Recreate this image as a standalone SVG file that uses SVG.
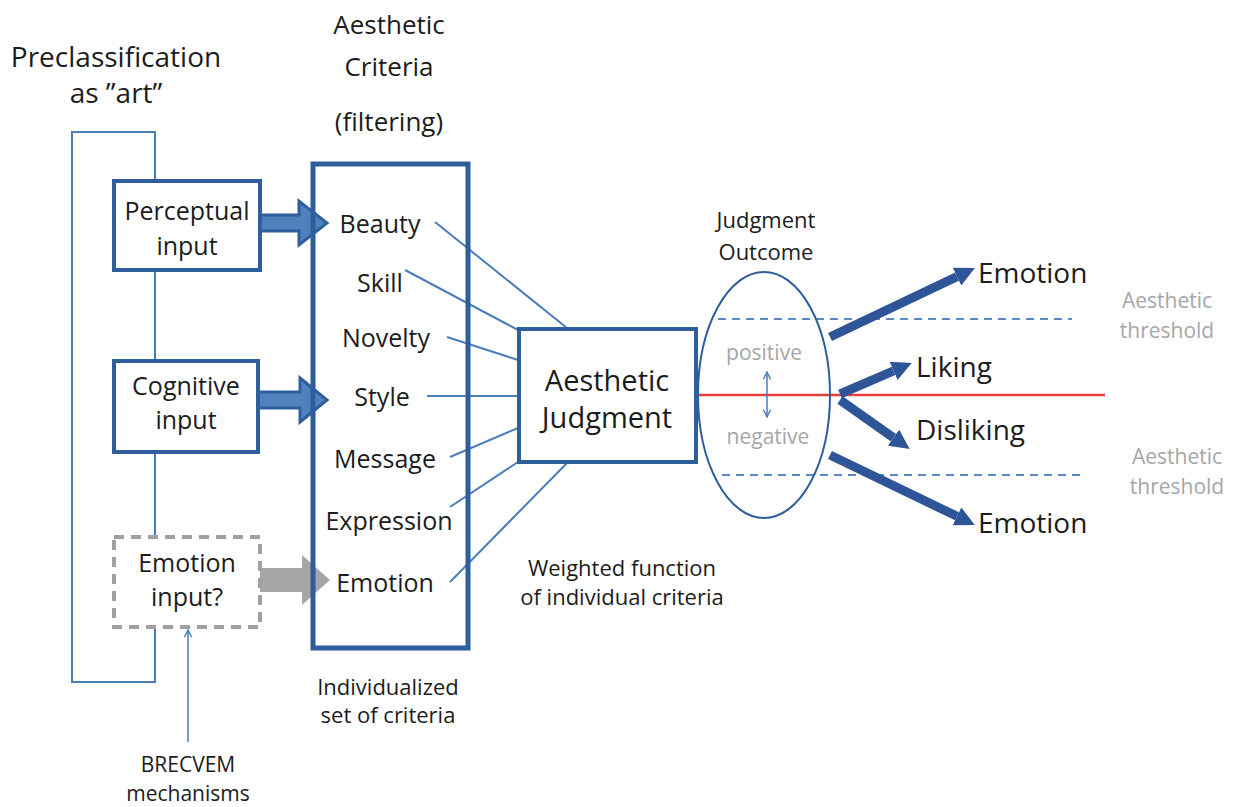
<svg xmlns="http://www.w3.org/2000/svg" width="1234" height="807" viewBox="0 0 1234 807">
<defs>
<style>
text{font-family:"Open Sans","Liberation Sans",sans-serif;fill:#1c1c1c;text-anchor:middle}
.h{font-size:28px}
.h2{font-size:26px}
.b{font-size:25px}
.c{font-size:25px}
.j{font-size:29px}
.s{font-size:22px}
.g{font-size:21px;fill:#a6a6a6}
.big{font-size:28px;text-anchor:start}
.box{fill:#fff;stroke:#2f5e9c;stroke-width:4}
.thin{stroke:#4a7ebb;stroke-width:2;fill:none}
.fat{stroke:#2e5597;stroke-width:9;fill:none}
.dash{stroke:#5a8ac6;stroke-width:2;stroke-dasharray:8,6;fill:none}
</style>
<marker id="ah" viewBox="0 0 10 10" refX="0" refY="5" markerWidth="2.2" markerHeight="2.2" orient="auto" markerUnits="strokeWidth">
<path d="M0,0 L10,5 L0,10 z" fill="#2e5597"/>
</marker>
<marker id="open" viewBox="0 0 10 10" refX="9" refY="5" markerWidth="9" markerHeight="9" orient="auto-start-reverse" markerUnits="userSpaceOnUse">
<path d="M1,1 L9,5 L1,9" fill="none" stroke="#4a7ebb" stroke-width="1.6"/>
</marker>
</defs>
<rect width="1234" height="807" fill="#fff"/>

<g id="headers">
<text class="h" x="116" y="67">Preclassification</text>
<text class="h" x="116" y="103">as ”art”</text>
<text class="h2" x="389" y="34">Aesthetic</text>
<text class="h2" x="389" y="76">Criteria</text>
<text class="h2" x="389" y="131">(filtering)</text>
</g>

<g id="preclassification-loop">
<rect x="72" y="132" width="83" height="550" class="thin"/>
</g>

<g id="connectors">
<line x1="435" y1="222" x2="567" y2="328" class="thin"/>
<line x1="405" y1="270" x2="518" y2="330" class="thin"/>
<line x1="447" y1="337" x2="518" y2="360" class="thin"/>
<line x1="427" y1="396" x2="518" y2="396" class="thin"/>
<line x1="450" y1="457" x2="518" y2="428" class="thin"/>
<line x1="450" y1="507" x2="518" y2="462" class="thin"/>
<line x1="450" y1="582" x2="568" y2="462" class="thin"/>
<line x1="188" y1="742" x2="188" y2="630" class="thin" style="stroke-width:1.5" marker-end="url(#open)"/>
<line x1="697" y1="395" x2="1105" y2="395" stroke="#e8413f" stroke-width="2.5"/>
<line x1="718" y1="319" x2="1072" y2="319" class="dash"/>
<line x1="722" y1="475" x2="1080" y2="475" class="dash"/>
<line x1="767" y1="372" x2="767" y2="417" class="thin" style="stroke-width:1.5" marker-start="url(#open)" marker-end="url(#open)"/>
<line x1="830" y1="337" x2="957" y2="276.6" class="fat" marker-end="url(#ah)"/>
<line x1="840" y1="394" x2="893.6" y2="370.9" class="fat" marker-end="url(#ah)"/>
<line x1="840" y1="400" x2="893.5" y2="437.7" class="fat" marker-end="url(#ah)"/>
<line x1="830" y1="455" x2="957" y2="516.3" class="fat" marker-end="url(#ah)"/>
<path d="M260,215 H299 V201 L327,223 L299,245 V231 H260 Z" fill="#4f81bd" stroke="#2f5e9c" stroke-width="3"/>
<path d="M258,392 H300 V378 L327,400 L300,422 V408 H258 Z" fill="#4f81bd" stroke="#2f5e9c" stroke-width="3"/>
<path d="M260,568 H302 V555 L330,580 L302,605 V592 H260 Z" fill="#a6a6a6"/>
</g>

<g id="perceptual-input">
<rect x="114" y="181" width="146" height="89" class="box"/>
<text class="b" x="187" y="220">Perceptual</text>
<text class="b" x="187" y="255">input</text>
</g>

<g id="cognitive-input">
<rect x="114" y="361" width="144" height="91" class="box"/>
<text class="b" x="186" y="395">Cognitive</text>
<text class="b" x="186" y="429">input</text>
</g>

<g id="emotion-input">
<rect x="114" y="537" width="146" height="90" fill="#fff" stroke="#a0a0a0" stroke-width="4" stroke-dasharray="10,7"/>
<text class="b" x="187" y="572">Emotion</text>
<text class="b" x="187" y="606">input?</text>
</g>

<g id="criteria">
<rect x="313" y="164" width="155" height="484" fill="none" stroke="#2f5e9c" stroke-width="5"/>
<text class="c" x="380" y="233">Beauty</text>
<text class="c" x="380" y="292">Skill</text>
<text class="c" x="386" y="347">Novelty</text>
<text class="c" x="382" y="406">Style</text>
<text class="c" x="385" y="468">Message</text>
<text class="c" x="389" y="530">Expression</text>
<text class="c" x="385" y="592">Emotion</text>
</g>

<g id="aesthetic-judgment">
<rect x="519" y="329" width="177" height="133" class="box"/>
<text class="j" x="607" y="391">Aesthetic</text>
<text class="j" x="607" y="428">Judgment</text>
</g>

<g id="judgment-outcome">
<ellipse cx="764" cy="395" rx="66" ry="123" fill="none" stroke="#2f5e9c" stroke-width="2"/>
<text class="s" x="766" y="228">Judgment</text>
<text class="s" x="766" y="260">Outcome</text>
<text class="g" x="764" y="360">positive</text>
<text class="g" x="768" y="444">negative</text>
</g>

<g id="outcomes">
<text class="big" x="978" y="283">Emotion</text>
<text class="big" x="916" y="377">Liking</text>
<text class="big" x="916" y="440">Disliking</text>
<text class="big" x="978" y="533">Emotion</text>
</g>

<g id="thresholds">
<text class="g" x="1167" y="308">Aesthetic</text>
<text class="g" x="1167" y="338">threshold</text>
<text class="g" x="1177" y="464">Aesthetic</text>
<text class="g" x="1177" y="494">threshold</text>
</g>

<g id="notes">
<text class="s" x="622" y="576">Weighted function</text>
<text class="s" x="622" y="605">of individual criteria</text>
<text class="s" x="388" y="695">Individualized</text>
<text class="s" x="388" y="723">set of criteria</text>
<text class="g" style="fill:#1c1c1c" x="188" y="772">BRECVEM</text>
<text class="g" style="fill:#1c1c1c" x="188" y="801">mechanisms</text>
</g>
</svg>
